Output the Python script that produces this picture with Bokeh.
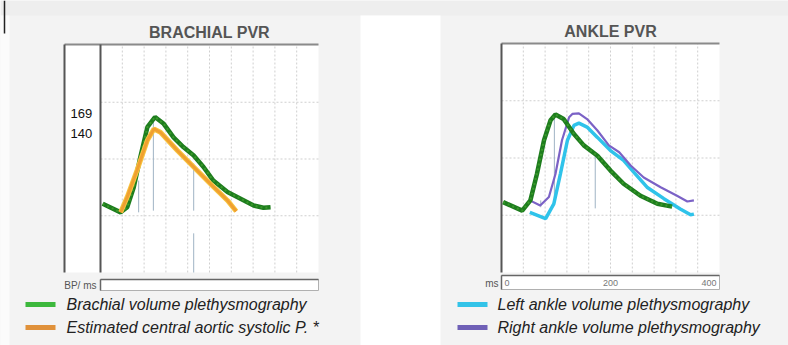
from bokeh.plotting import figure
from bokeh.models import Range1d, ColumnDataSource
from bokeh.embed import file_html
from bokeh.resources import INLINE
from bokeh.core.properties import value

# ---------------- data ----------------
time_ticks = [0, 200, 400]
time_tick_labels = ["0", "200", "400"]
grid_ms = [40, 80, 120, 160, 200, 240, 280, 320, 360]
grid_levels = [1, 2, 3]

brachial_ms = [4, 37, 49, 61, 73, 86, 100, 116, 134, 152, 171, 189, 207, 233, 257, 281, 299, 312]
brachial_pvr = [1.21, 1.06, 1.15, 1.50, 2.03, 2.56, 2.74, 2.62, 2.38, 2.21, 2.06, 1.86, 1.62, 1.42, 1.30, 1.18, 1.14, 1.15]
central_ms = [37, 49, 67, 86, 98, 110, 141, 171, 202, 233, 249]
central_pvr = [1.06, 1.33, 1.80, 2.33, 2.53, 2.47, 2.15, 1.86, 1.56, 1.27, 1.08]
bp_values = ["169", "140"]
brachial_mark_ms = [70, 97, 171, 171]
brachial_mark_top = [1.62, 2.68, 1.92, 0.69]
brachial_mark_bottom = [1.06, 1.09, 1.09, 0.0]

ankle_ref_ms = [3, 38, 53, 65, 78, 90, 99, 114, 133, 151, 176, 200, 224, 255, 286, 313]
ankle_ref_pvr = [1.23, 1.08, 1.26, 1.72, 2.31, 2.66, 2.76, 2.68, 2.42, 2.22, 2.04, 1.78, 1.55, 1.34, 1.20, 1.15]
left_ankle_ms = [52, 81, 96, 108, 121, 133, 142, 157, 176, 200, 224, 243, 267, 298, 328, 347, 353]
left_ankle_pvr = [1.05, 0.94, 1.20, 1.72, 2.31, 2.57, 2.61, 2.54, 2.36, 2.13, 1.96, 1.75, 1.49, 1.29, 1.11, 1.01, 1.02]
right_ankle_ms = [52, 71, 87, 99, 111, 124, 130, 142, 157, 176, 197, 216, 237, 261, 292, 322, 341, 353]
right_ankle_pvr = [1.26, 1.17, 1.32, 1.72, 2.31, 2.71, 2.77, 2.78, 2.68, 2.48, 2.22, 2.10, 1.87, 1.66, 1.49, 1.34, 1.24, 1.26]
ankle_mark_ms = [72, 97, 172]
ankle_mark_top = [1.26, 2.74, 2.04]
ankle_mark_bottom = [1.14, 1.26, 1.12]

brachial_title = "BRACHIAL PVR"
ankle_title = "ANKLE PVR"
brachial_legend = ["Brachial volume plethysmography", "Estimated central aortic systolic P. *"]
ankle_legend = ["Left ankle volume plethysmography", "Right ankle volume plethysmography"]

# ---------------- layout ----------------
FONT = value("Liberation Sans")
W, H = 788, 345
PAGE_X0, PAGE_X1, PAGE_Y0, PAGE_Y1 = 0, 788, 0, 345   # canvas in page pixels
BR = dict(left=100, right=318, top=45, bottom=272)
AN = dict(left=501, right=719, top=43, bottom=272)
MS_MAX, LEVEL_MAX = 400, 4


def span(v_a, v_b, px_a, px_b, c_lo, c_hi):
    s = (v_b - v_a) / (px_b - px_a)
    return Range1d(start=v_a + (c_lo - px_a) * s, end=v_a + (c_hi - px_a) * s)


p = figure(width=W, height=H, output_backend="svg", toolbar_location=None,
           x_range=Range1d(PAGE_X0, PAGE_X1), y_range=Range1d(PAGE_Y1, PAGE_Y0),
           x_axis_location=None, y_axis_location=None, min_border=0)
p.grid.visible = False
p.outline_line_color = None
p.background_fill_color = "#f3f3f3"
p.border_fill_color = "#f3f3f3"

p.extra_x_ranges = {
    "bx": span(0, MS_MAX, BR["left"], BR["right"], PAGE_X0, PAGE_X1),
    "ax": span(0, MS_MAX, AN["left"], AN["right"], PAGE_X0, PAGE_X1),
}
p.extra_y_ranges = {
    "by": span(0, LEVEL_MAX, BR["bottom"], BR["top"], PAGE_Y1, PAGE_Y0),
    "ay": span(0, LEVEL_MAX, AN["bottom"], AN["top"], PAGE_Y1, PAGE_Y0),
}

# background pieces
p.quad(left=PAGE_X0, right=PAGE_X1, top=PAGE_Y0, bottom=15, fill_color="#eeeeee", line_color=None)
p.quad(left=PAGE_X0, right=9, top=15, bottom=PAGE_Y1, fill_color="#fbfbfb", line_color=None)
p.quad(left=360, right=440, top=15, bottom=PAGE_Y1, fill_color="#ffffff", line_color=None)
p.segment(x0=[4], y0=[0], x1=[4], y1=[33], line_color="#222222", line_width=1.5)

# brachial label column
p.quad(left=64, right=BR["left"], top=44, bottom=BR["bottom"], fill_color="#ffffff", line_color=None)

for xr, yr in (("bx", "by"), ("ax", "ay")):
    # plot area
    p.quad(left=0, right=MS_MAX, bottom=0, top=LEVEL_MAX, fill_color="#ffffff", line_color=None,
           x_range_name=xr, y_range_name=yr)
    # dashed grid
    p.segment(x0=grid_ms, y0=0, x1=grid_ms, y1=LEVEL_MAX, line_color="#cfcfcf", line_width=1,
              line_dash="2 2", x_range_name=xr, y_range_name=yr)
    p.segment(x0=0, y0=grid_levels, x1=MS_MAX, y1=grid_levels, line_color="#cfcfcf", line_width=1,
              line_dash="2 2", x_range_name=xr, y_range_name=yr)

# frames
p.segment(x0=[64], y0=[44], x1=[BR["right"]], y1=[44], line_color="#8a8a8a", line_width=2)
p.segment(x0=[64, BR["left"]], y0=[44, 44], x1=[64, BR["left"]], y1=[BR["bottom"], BR["bottom"]],
          line_color="#555555", line_width=2)
p.segment(x0=[AN["left"]], y0=[AN["top"]], x1=[AN["right"]], y1=[AN["top"]], line_color="#8a8a8a", line_width=2)
p.segment(x0=[AN["left"]], y0=[AN["top"]], x1=[AN["left"]], y1=[AN["bottom"]], line_color="#555555", line_width=2)

# bottom boxes
p.quad(left=BR["left"], right=BR["right"], top=279, bottom=290, fill_color="#ffffff", line_color="#b0b0b0")
p.segment(x0=[BR["left"], BR["left"]], y0=[279, 279], x1=[BR["right"], BR["left"]], y1=[279, 290],
          line_color="#666666", line_width=1.5)
p.quad(left=AN["left"], right=AN["right"], top=275, bottom=289, fill_color="#ffffff", line_color="#b0b0b0")
p.segment(x0=[AN["left"], AN["left"]], y0=[275, 275], x1=[AN["right"], AN["left"]], y1=[275, 289],
          line_color="#666666", line_width=1.5)

# marker lines
p.segment(x0=brachial_mark_ms, y0=brachial_mark_bottom, x1=brachial_mark_ms, y1=brachial_mark_top,
          line_color="#9fb3c4", line_width=1, x_range_name="bx", y_range_name="by")
p.segment(x0=ankle_mark_ms, y0=ankle_mark_bottom, x1=ankle_mark_ms, y1=ankle_mark_top,
          line_color="#9fb3c4", line_width=1, x_range_name="ax", y_range_name="ay")

# curves - brachial
src_b = ColumnDataSource(dict(x=brachial_ms, y=brachial_pvr))
src_c = ColumnDataSource(dict(x=central_ms, y=central_pvr))
p.line("x", "y", source=src_b, line_color="#1e7d1e", line_width=4.5, x_range_name="bx", y_range_name="by")
p.line("x", "y", source=src_b, line_color="#3a9a2a", line_width=2, line_dash="2 3",
       x_range_name="bx", y_range_name="by")
p.line("x", "y", source=src_c, line_color="#f7c440", line_width=5, x_range_name="bx", y_range_name="by")
p.line("x", "y", source=src_c, line_color="#f0a030", line_width=3, x_range_name="bx", y_range_name="by")

# curves - ankle
src_l = ColumnDataSource(dict(x=left_ankle_ms, y=left_ankle_pvr))
src_r = ColumnDataSource(dict(x=right_ankle_ms, y=right_ankle_pvr))
src_a = ColumnDataSource(dict(x=ankle_ref_ms, y=ankle_ref_pvr))
p.line("x", "y", source=src_l, line_color="#2fc3ea", line_width=3.5, x_range_name="ax", y_range_name="ay")
p.line("x", "y", source=src_r, line_color="#7b62c6", line_width=2.2, x_range_name="ax", y_range_name="ay")
p.line("x", "y", source=src_a, line_color="#1e7d1e", line_width=4.5, x_range_name="ax", y_range_name="ay")
p.line("x", "y", source=src_a, line_color="#3a9a2a", line_width=2, line_dash="2 3",
       x_range_name="ax", y_range_name="ay")

# titles
p.text(x=[(BR["left"] + BR["right"]) / 2], y=[32], text=[brachial_title], text_font=FONT,
       text_font_size="16px", text_font_style="bold", text_color="#555555",
       text_align="center", text_baseline="middle")
p.text(x=[(AN["left"] + AN["right"]) / 2], y=[31], text=[ankle_title], text_font=FONT,
       text_font_size="16px", text_font_style="bold", text_color="#555555",
       text_align="center", text_baseline="middle")

# systolic values
p.text(x=[70, 70], y=[113, 133], text=bp_values, text_font=FONT, text_font_size="13px",
       text_color="#111111", text_align="left", text_baseline="middle")

# axis captions
p.text(x=[96], y=[285], text=["BP/ ms"], text_font=FONT, text_font_size="10px",
       text_color="#555555", text_align="right", text_baseline="middle")
p.text(x=[498], y=[283], text=["ms"], text_font=FONT, text_font_size="10px",
       text_color="#555555", text_align="right", text_baseline="middle")

aligns = ["left", "center", "right"]
offsets = [3, 0, -3]
for t, lab, al, off in zip(time_ticks, time_tick_labels, aligns, offsets):
    p.text(x=[t], y=[282], text=[lab], text_font=FONT, text_font_size="9px", text_color="#777777",
           text_align=al, text_baseline="middle", x_offset=off, x_range_name="ax")

# legends
legend_rows = [304, 327]
for labels, colors, sx, tx in ((brachial_legend, ["#3cb83c", "#e0913a"], 25, 66),
                               (ankle_legend, ["#33c3e8", "#6f60b6"], 457, 497)):
    for lab, col, yy in zip(labels, colors, legend_rows):
        p.quad(left=sx, right=sx + 30, top=yy - 2.5, bottom=yy + 2.5, fill_color=col, line_color=None)
        p.text(x=[tx], y=[yy], text=[lab], text_font=FONT, text_font_size="16px",
               text_font_style="italic", text_color="#222222", text_align="left", text_baseline="middle")

open("out.html", "w").write(file_html(p, INLINE))
